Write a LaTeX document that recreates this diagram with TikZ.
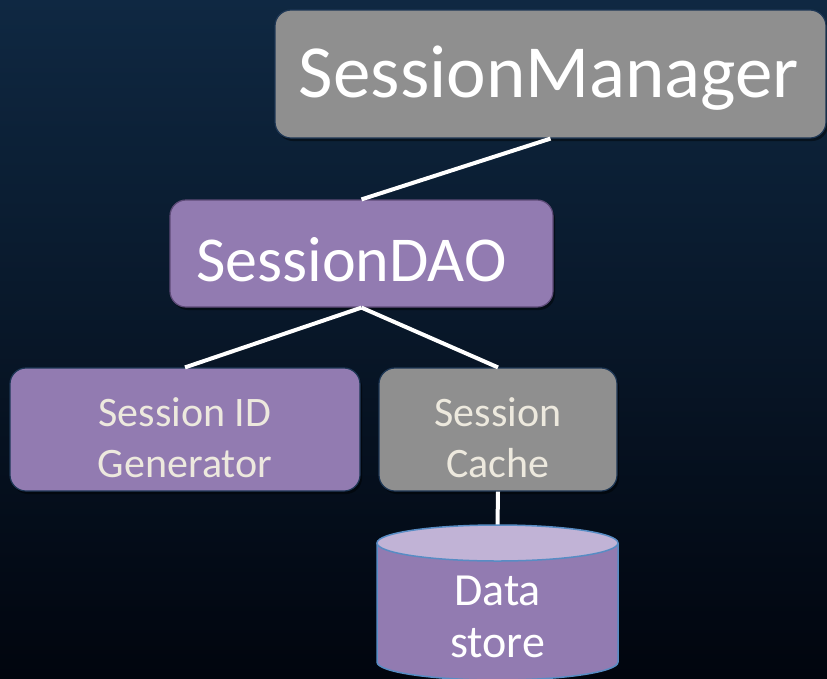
\documentclass[tikz,border=0pt]{standalone}
\usepackage{fontspec}
\setmainfont{Carlito}
\usetikzlibrary{shadows}

\definecolor{bgtop}{RGB}{15,40,66}
\definecolor{bgbot}{RGB}{1,5,14}
\definecolor{boxgray}{RGB}{143,143,143}
\definecolor{boxpurple}{RGB}{146,123,177}
\definecolor{cyltop}{RGB}{193,179,214}
\definecolor{cyledge}{RGB}{88,140,196}
\definecolor{navyedge}{RGB}{30,55,85}
\definecolor{purpleedge}{RGB}{94,75,120}
\definecolor{cream}{RGB}{237,233,222}

\tikzset{
  box/.style={rectangle, rounded corners=16pt, line width=1.2pt, inner sep=0pt,
    drop shadow={shadow xshift=2pt, shadow yshift=-3pt, opacity=0.45, fill=black}},
  graybox/.style={box, fill=boxgray, draw=navyedge},
  purplebox/.style={box, fill=boxpurple, draw=navyedge},
  bigtext/.style={text=white, inner sep=0pt},
  smalltext/.style={text=cream, align=center, inner sep=0pt,
    font=\fontsize{42}{51}\selectfont},
  link/.style={draw=white, line width=4pt}
}

\begin{document}
\begin{tikzpicture}[x=1pt,y=-1pt]
  \useasboundingbox (0,0) rectangle (827,678);
  \clip (0,0) rectangle (827,678);
  % background
  \shade[top color=bgtop, bottom color=bgbot] (0,0) rectangle (827,678);

  % free end of the link into the data store
  \coordinate (cyl) at (497.5,526);

  % boxes
  \node[graybox, minimum width=551pt, minimum height=128pt] (sm) at (550.5,74) {};
  \node[purplebox, draw=purpleedge, minimum width=383pt, minimum height=107pt] (dao) at (361.5,253.5) {};
  \node[purplebox, minimum width=350pt, minimum height=123pt] (gen) at (185,429.5) {};
  \node[graybox, minimum width=238pt, minimum height=123pt] (cache) at (498,429.5) {};

  % connectors
  \draw[link] (sm.south) -- (dao.north);
  \draw[link] (dao.south) -- (gen.north);
  \draw[link] (dao.south) -- (cache.north);
  \draw[link] (cache.south) -- (cyl);

  % labels
  \node[bigtext, font=\fontsize{75}{90}\selectfont] (smlabel) at (549,78) {SessionManager};
  \node[bigtext, font=\fontsize{64}{77}\selectfont, anchor=west] (daolabel) at (196,260) {SessionDAO};
  \node[smalltext] (genlabel) at (185,438) {Session ID\\Generator};
  \node[smalltext] (cachelabel) at (498,438) {Session\\Cache};

  % data store cylinder
  \fill[boxpurple] (377,543) -- (377,662) arc[start angle=180, end angle=360, x radius=120.5, y radius=-18] -- (618,543) -- cycle;
  \draw[cyledge, line width=1.5pt] (377,543) -- (377,662) arc[start angle=180, end angle=360, x radius=120.5, y radius=-18] -- (618,543);
  \draw[cyledge, line width=1.5pt, fill=cyltop] (497.5,543) ellipse[x radius=120.5, y radius=18];
  \node[text=white, align=center, inner sep=0pt, font=\fontsize{46}{52}\selectfont] (storelabel) at (497.5,617) {Data\\store};
\end{tikzpicture}
\end{document}
